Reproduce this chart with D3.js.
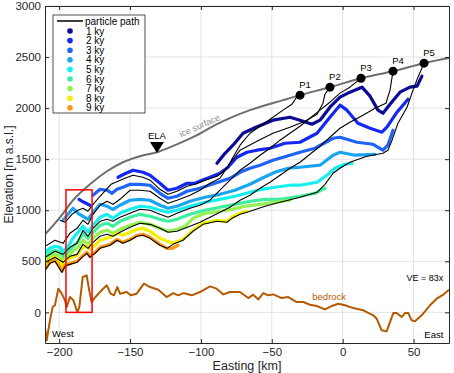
<!DOCTYPE html>
<html>
<head>
<meta charset="utf-8">
<script src="https://cdn.jsdelivr.net/npm/d3@7"></script>
<style>
  body { margin: 0; background: #fff; }
  text { font-family: "Liberation Sans", Arial, sans-serif; }
</style>
</head>
<body>
<div id="wide"></div>
<script>
// ---- data (easting km, elevation m a.s.l.) ----
const iceSurface = [[-210,764],[-199.4,931],[-190.2,1098],[-178.3,1254],[-166.3,1382],[-155,1470],[-143,1529],[-131,1568],[-118.3,1637],[-104.2,1725],[-90.1,1833],[-65.4,1980],[-42.1,2078],[-30.1,2127],[-9,2205],[12.9,2293],[35.5,2362],[57.4,2440],[75,2490]];

const bedrock = [[-210,-144],[-208.8,-274],[-206.5,-78],[-204.6,52],[-203,69],[-200.6,232],[-198.2,183],[-195.9,118],[-194.7,52],[-192.4,150],[-190,118],[-187.2,3],[-185.8,52],[-183.4,346],[-180.6,363],[-178.8,216],[-177.1,101],[-175.4,134],[-171.2,199],[-166.5,265],[-163.7,183],[-161.3,167],[-159,248],[-157.1,183],[-152.4,199],[-149.5,167],[-145.3,183],[-140.2,281],[-135.9,248],[-130.1,222],[-124.2,150],[-119.5,189],[-116,167],[-112.4,189],[-106.5,167],[-100.7,199],[-93.6,255],[-88.9,232],[-84.2,176],[-79.5,199],[-72.4,199],[-66.6,140],[-63.1,173],[-59.5,127],[-56,189],[-52.5,167],[-49,176],[-43,140],[-38.4,150],[-32.4,101],[-27.8,101],[-23.1,75],[-18.3,62],[-12.5,29],[-7.8,62],[-3.1,85],[1.6,69],[7.5,42],[14.5,20],[21.6,-29],[24,-62],[27.5,-176],[31,-186],[35.7,-7],[38.1,-7],[41.6,-46],[44,-7],[46.3,-7],[48.7,-78],[51,-88],[55.7,-29],[61.6,69],[66.3,134],[71,173],[75,222]];

const ages = ["1 ky","2 ky","3 ky","4 ky","5 ky","6 ky","7 ky","8 ky","9 ky"];
const ageColors = ["#0b0b96","#1428f0","#1e64f5","#19a5f0","#14f0f0","#3cf0a0","#96f050","#f0f000","#ff9614"];

// isochrones, one list of segments per age
const iso1 = [[[-88.7,1460],[-83.0,1558],[-77.4,1637],[-70.3,1754],[-61.2,1813],[-49.2,1882],[-37.2,1911],[-30.1,1882],[-21.7,1842],[-16.0,1882],[-9.0,2009],[-1.9,2107],[5.1,2156],[13.6,2205],[19.3,2117],[24.9,1980],[28.4,1950],[33.4,2038],[40.4,2156],[47.5,2205],[52.4,2215],[55.9,2313]]];
const iso2 = [[[-186.0,1107],[-182.5,1078],[-178.3,1049]],
  [[-158.5,1323],[-152.9,1362],[-147.9,1392],[-140.9,1372],[-135.9,1343],[-128.9,1264],[-123.2,1196],[-116.9,1215],[-109.8,1264],[-104.2,1264],[-99.3,1294],[-93.6,1323],[-86.6,1362],[-80.9,1421],[-74.6,1519],[-67.5,1568],[-60.5,1588],[-51.3,1607],[-40.7,1656],[-30.1,1666],[-18.1,1754],[-9.0,1911],[-1.9,2029],[3.0,1980],[10.8,1852],[19.3,1803],[27.7,1764],[31.2,1813],[38.3,1960],[46.1,2087]]];
const iso3 = [[[-176.1,1147],[-171.2,1205],[-166.3,1196],[-162.7,1166],[-159.2,1205],[-155.0,1225],[-150.0,1254],[-143.0,1254],[-135.9,1245],[-128.9,1166],[-123.2,1117],[-116.9,1137],[-109.8,1186],[-100.7,1215],[-90.1,1264],[-79.5,1313],[-72.4,1372],[-65.4,1411],[-58.3,1441],[-49.2,1490],[-37.2,1539],[-30.1,1568],[-19.5,1607],[-6.8,1705],[-1.9,1715],[10.1,1666],[21.4,1646],[28.4,1588],[31.9,1637],[35.5,1784]]];
const iso4 = [[[-197.3,902],[-193.8,960],[-190.2,1019],[-186.7,970],[-183.2,941],[-179.7,911],[-176.1,980],[-171.2,1058],[-166.3,1039],[-162.0,1009],[-157.1,1049],[-150.0,1098],[-143.0,1107],[-135.9,1098],[-128.9,1049],[-123.2,1019],[-116.9,1039],[-107.7,1088],[-97.1,1127],[-86.6,1156],[-76.0,1196],[-65.4,1254],[-56.9,1313],[-47.8,1372],[-38.6,1411],[-30.1,1421],[-16.0,1441],[-6.8,1539],[-1.9,1568],[8.7,1539],[22.8,1548]]];
const iso5 = [[[-210,588],[-206.5,627],[-202.9,647],[-199.4,637],[-197.3,598],[-193.8,647],[-190.2,725],[-186.7,784],[-183.2,843],[-179.7,784],[-176.1,853],[-171.2,931],[-166.3,960],[-162.0,921],[-157.1,970],[-150.0,1009],[-143.0,1039],[-135.9,1029],[-128.9,1000],[-123.2,980],[-116.9,1000],[-107.7,1039],[-97.1,1078],[-86.6,1107],[-76.0,1137],[-65.4,1176],[-56.9,1205],[-47.8,1225],[-37.2,1245],[-30.1,1245],[-18.1,1274],[-11.1,1343],[-5.4,1411],[1.6,1450],[6.6,1460]]];
const iso6 = [[[-210,549],[-206.5,588],[-202.9,608],[-199.4,588],[-197.3,539],[-193.8,588],[-190.2,647],[-186.7,696],[-183.2,774],[-179.7,725],[-176.1,784],[-171.2,853],[-166.3,872],[-162.0,843],[-157.1,892],[-150.0,931],[-143.0,960],[-135.9,941],[-128.9,911],[-123.2,892],[-116.9,911],[-107.7,960],[-97.1,1000],[-86.6,1029],[-76.0,1058],[-65.4,1088],[-54.8,1107],[-44.2,1107],[-30.1,1137],[-19.5,1166],[-12.5,1215]]];
const iso7 = [[[-210,510],[-206.5,549],[-202.9,568],[-199.4,549],[-197.3,500],[-193.8,549],[-190.2,598],[-186.7,637],[-183.2,706],[-179.7,666],[-176.1,725],[-171.2,784],[-166.3,804],[-162.0,774],[-157.1,813],[-150.0,853],[-143.0,882],[-135.9,862],[-128.9,823],[-123.2,794],[-116.9,813],[-111.2,843],[-105.6,921],[-97.1,970],[-86.6,990],[-78.1,1009],[-68.9,1039],[-58.3,1058],[-47.8,1078],[-37.2,1098]]];
const iso8 = [[[-210,470],[-206.5,519],[-202.9,539],[-200.1,510],[-198.0,451],[-195.9,510],[-192.4,529],[-187.4,559],[-183.9,627],[-180.4,657],[-178.3,617],[-174.7,657],[-171.2,706],[-164.1,735],[-159.2,774],[-155.0,755],[-150.0,784],[-145.1,813],[-140.9,823],[-135.9,794],[-128.9,725],[-123.9,696],[-119.7,676],[-112.7,715],[-105.6,804],[-98.5,872],[-88.7,902],[-81.6,892],[-78.1,931],[-72.4,970],[-67.5,990]]];
const iso9 = [[[-210,421],[-206.5,490],[-202.9,510],[-200.1,461],[-198.0,402],[-195.9,461],[-192.4,480],[-187.4,500],[-183.9,549],[-180.4,588],[-178.3,549],[-174.7,588],[-171.2,637],[-164.1,666],[-159.2,715],[-155.0,686],[-150.0,715],[-145.1,755],[-140.9,764],[-135.9,735],[-128.9,666],[-123.9,627],[-120.4,627],[-116.2,657]]];
const isochrones = [iso1, iso2, iso3, iso4, iso5, iso6, iso7, iso8, iso9];

// particle paths from P1..P5 (start at the surface, run west)
const path1 = [[-31.5,2127],[-35.8,2038],[-42.1,1980],[-49.2,1911],[-56.2,1842],[-65.4,1754],[-72.4,1637],[-77.4,1519],[-81.6,1411],[-88.7,1333],[-97.1,1294],[-104.2,1254],[-109.8,1235],[-116.9,1186],[-123.2,1156],[-128.9,1205],[-135.9,1294],[-140.9,1323],[-147.9,1343],[-153.6,1313],[-158.5,1284],[-163.4,1254],[-171.2,1137],[-176.1,1058],[-179.7,990],[-183.2,1019],[-186.7,1000],[-191.0,960],[-195.9,882],[-199.4,902]];
const path2 = [[-9.0,2205],[-12.5,2136],[-13.9,2048],[-18.1,1940],[-26.6,1872],[-37.2,1813],[-49.2,1754],[-60.5,1676],[-72.4,1588],[-79.5,1460],[-86.6,1313],[-93.6,1264],[-100.7,1196],[-107.7,1147],[-116.9,1098],[-123.2,1068],[-128.9,1117],[-135.9,1186],[-143.0,1196],[-150.0,1196],[-157.1,1107],[-162.0,1058],[-166.3,1088],[-171.2,1049],[-176.1,960],[-179.7,862],[-183.2,902],[-187.4,823],[-192.4,774],[-197.3,676],[-202.9,706],[-210,647]];
const path3 = [[12.9,2293],[5.1,2205],[-1.9,2147],[-9.0,2058],[-16.0,1980],[-23.1,1901],[-30.1,1823],[-37.2,1754],[-44.2,1686],[-51.3,1607],[-58.3,1539],[-65.4,1460],[-72.4,1392],[-79.5,1294],[-86.6,1196],[-93.6,1098],[-100.7,1049],[-107.7,1019],[-116.9,970],[-123.2,931],[-128.9,960],[-135.9,1000],[-143.0,1009],[-150.0,970],[-157.1,931],[-162.0,892],[-166.3,911],[-171.2,892],[-176.1,823],[-179.7,745],[-183.2,804],[-187.4,676],[-192.4,637],[-197.3,568],[-202.9,598],[-210,539]];
const path4 = [[35.5,2362],[33.4,2176],[30.5,2048],[22.8,1999],[14.3,1931],[5.1,1862],[-1.9,1803],[-9.0,1715],[-16.0,1627],[-23.1,1548],[-30.1,1470],[-37.2,1411],[-44.2,1343],[-51.3,1274],[-58.3,1215],[-65.4,1147],[-72.4,1098],[-79.5,1029],[-86.6,980],[-93.6,931],[-100.7,882],[-107.7,843],[-116.9,794],[-123.2,784],[-128.9,823],[-135.9,862],[-143.0,872],[-150.0,833],[-157.1,784],[-162.0,745],[-166.3,764],[-171.2,745],[-176.1,686],[-179.7,627],[-183.2,666],[-187.4,568],[-192.4,549],[-197.3,490],[-202.9,539],[-210,490]];
const path5 = [[57.4,2440],[53.1,2303],[49.6,2176],[45.4,2009],[39.0,1852],[34.8,1686],[31.9,1588],[28.4,1558],[17.1,1529],[5.1,1470],[-1.9,1411],[-6.8,1362],[-12.5,1254],[-18.1,1176],[-30.1,1127],[-44.2,1078],[-54.8,1039],[-67.5,980],[-72.4,960],[-78.1,921],[-81.6,882],[-88.7,892],[-98.5,862],[-105.6,794],[-112.7,706],[-119.7,666],[-123.9,627],[-128.9,657],[-135.9,725],[-140.9,755],[-145.1,745],[-150.0,706],[-155.0,676],[-159.2,706],[-164.1,657],[-171.2,627],[-174.7,578],[-178.3,539],[-180.4,578],[-183.9,539],[-187.4,490],[-192.4,470],[-195.9,451],[-198.0,392],[-200.8,451],[-202.9,500],[-206.5,480],[-210,412]];
const particlePaths = [path1, path2, path3, path4, path5];

const startNames = ["P1","P2","P3","P4","P5"];
const startPoints = [[-30.1,2127],[-9,2205],[12.9,2293],[35.5,2362],[57.4,2440]];
const ela = [-131, 1560];

const xTicks = [-200,-150,-100,-50,0,50];
const yTicks = [0,500,1000,1500,2000,2500,3000];
const redBox = [[-195.2,0],[-176.8,1200]];

// ---- layout ----
const W = 454, H = 373;
const margin = {top: 6, right: 5, bottom: 30, left: 45};

const svg = d3.select("#wide")
    .append("svg")
    .attr("width", W)
    .attr("height", H);

const x = d3.scaleLinear().domain([-210, 75]).range([margin.left, W - margin.right]);
const y = d3.scaleLinear().domain([-300, 3000]).range([H - margin.bottom, margin.top]);

svg.append("defs").append("clipPath").attr("id", "plotclip")
    .append("rect")
    .attr("x", x.range()[0]).attr("y", y.range()[1])
    .attr("width", x.range()[1] - x.range()[0])
    .attr("height", y.range()[0] - y.range()[1]);

// grid
const grid = svg.append("g").attr("class", "grid");
grid.selectAll(".gx").data(xTicks).enter().append("line")
    .attr("x1", d => x(d)).attr("x2", d => x(d))
    .attr("y1", y.range()[0]).attr("y2", y.range()[1])
    .attr("stroke", "#e3e3e3").attr("stroke-width", 1);
grid.selectAll(".gy").data(yTicks).enter().append("line")
    .attr("x1", x.range()[0]).attr("x2", x.range()[1])
    .attr("y1", d => y(d)).attr("y2", d => y(d))
    .attr("stroke", "#e3e3e3").attr("stroke-width", 1);

const line = d3.line().x(d => x(d[0])).y(d => y(d[1]));
const smooth = d3.line().x(d => x(d[0])).y(d => y(d[1])).curve(d3.curveMonotoneX);
const plot = svg.append("g").attr("clip-path", "url(#plotclip)");

// ice surface
plot.append("path")
    .attr("d", smooth(iceSurface))
    .attr("fill", "none").attr("stroke", "#6e6e6e").attr("stroke-width", 2);

// bedrock
plot.append("path")
    .attr("d", line(bedrock))
    .attr("fill", "none").attr("stroke", "#b45a00").attr("stroke-width", 2)
    .attr("stroke-linejoin", "round");

// isochrones (thick coloured)
isochrones.forEach((segs, i) => {
    plot.append("g").selectAll("path")
        .data(segs).enter().append("path")
        .attr("d", d => line(d))
        .attr("fill", "none")
        .attr("stroke", ageColors[i])
        .attr("stroke-width", 3.2)
        .attr("stroke-linejoin", "round")
        .attr("stroke-linecap", "round");
});

// particle paths (thin black)
plot.append("g").selectAll("path")
    .data(particlePaths).enter().append("path")
    .attr("d", d => line(d))
    .attr("fill", "none")
    .attr("stroke", "#000")
    .attr("stroke-width", 1.1)
    .attr("stroke-linejoin", "round");

// red box
plot.append("rect")
    .attr("x", x(redBox[0][0])).attr("y", y(redBox[1][1]))
    .attr("width", x(redBox[1][0]) - x(redBox[0][0]))
    .attr("height", y(redBox[0][1]) - y(redBox[1][1]))
    .attr("fill", "none").attr("stroke", "#f00").attr("stroke-width", 1.5);

// start points
svg.append("g").selectAll("circle")
    .data(startPoints).enter().append("circle")
    .attr("cx", d => x(d[0])).attr("cy", d => y(d[1]))
    .attr("r", 4.5).attr("fill", "#000");
svg.append("g").selectAll("text")
    .data(startPoints).enter().append("text")
    .attr("x", d => x(d[0]) + 5).attr("y", d => y(d[1]) - 7)
    .attr("text-anchor", "middle")
    .attr("font-size", 9.5)
    .text((d, i) => startNames[i]);

// ELA marker
const ex = x(ela[0]), ey = y(ela[1]);
svg.append("path")
    .attr("d", `M${ex - 7},${ey - 11}L${ex + 7},${ey - 11}L${ex},${ey}Z`)
    .attr("fill", "#000");
svg.append("text")
    .attr("x", ex).attr("y", ey - 14)
    .attr("text-anchor", "middle").attr("font-size", 9.5)
    .text("ELA");

// ice surface label
svg.append("text")
    .attr("transform", `translate(${x(-100)},${y(1800)}) rotate(-24)`)
    .attr("text-anchor", "middle").attr("font-size", 9)
    .attr("fill", "#8c8c8c")
    .text("ice surface");

svg.append("text")
    .attr("x", x(-9.5)).attr("y", y(120))
    .attr("text-anchor", "middle").attr("font-size", 9.5)
    .attr("fill", "#b45a00")
    .text("bedrock");

svg.append("text")
    .attr("x", x(-205)).attr("y", y(-245))
    .attr("font-size", 9.5).text("West");
svg.append("text")
    .attr("x", x(71)).attr("y", y(-250))
    .attr("text-anchor", "end").attr("font-size", 9.5).text("East");
svg.append("text")
    .attr("x", x(71)).attr("y", y(305))
    .attr("text-anchor", "end").attr("font-size", 9).text("VE = 83x");

// axes box + ticks
const axes = svg.append("g");
axes.append("g")
    .attr("transform", `translate(0,${y.range()[0]})`)
    .call(d3.axisBottom(x).tickValues(xTicks).tickFormat(d3.format("d"))
        .tickSizeInner(-4).tickSizeOuter(0).tickPadding(5));
axes.append("g")
    .attr("transform", `translate(0,${y.range()[1]})`)
    .call(d3.axisTop(x).tickValues(xTicks).tickSizeInner(-4).tickSizeOuter(0).tickFormat(""));
axes.append("g")
    .attr("transform", `translate(${x.range()[0]},0)`)
    .call(d3.axisLeft(y).tickValues(yTicks).tickFormat(d3.format("d"))
        .tickSizeInner(-4).tickSizeOuter(0).tickPadding(4));
axes.append("g")
    .attr("transform", `translate(${x.range()[1]},0)`)
    .call(d3.axisRight(y).tickValues(yTicks).tickSizeInner(-4).tickSizeOuter(0).tickFormat(""));
axes.selectAll(".domain").attr("stroke", "#262626");
axes.selectAll(".tick line").attr("stroke", "#262626");
axes.selectAll(".tick text")
    .attr("font-family", "'Liberation Sans', Arial, sans-serif")
    .attr("font-size", 11.5).attr("fill", "#262626");

svg.append("text")
    .attr("x", (x.range()[0] + x.range()[1]) / 2).attr("y", 370)
    .attr("text-anchor", "middle").attr("font-size", 12.5).attr("fill", "#262626")
    .text("Easting [km]");
svg.append("text")
    .attr("transform", `translate(12.5,${(y.range()[0] + y.range()[1]) / 2}) rotate(-90)`)
    .attr("text-anchor", "middle").attr("font-size", 12).attr("fill", "#262626")
    .text("Elevation [m a.s.l.]");

// legend
const lg = svg.append("g").attr("transform", "translate(53,15)");
lg.append("rect")
    .attr("width", 92).attr("height", 98)
    .attr("fill", "#fff").attr("stroke", "#262626").attr("stroke-width", 0.8);
lg.append("line")
    .attr("x1", 4).attr("x2", 30).attr("y1", 6).attr("y2", 6)
    .attr("stroke", "#000").attr("stroke-width", 1.5);
lg.append("text").attr("x", 32).attr("y", 9.5).attr("font-size", 10)
    .text("particle path");
const items = lg.selectAll(".item").data(ages).enter().append("g")
    .attr("transform", (d, i) => `translate(0,${16 + i * 9.6})`);
items.append("circle").attr("cx", 17).attr("cy", 0).attr("r", 2.8)
    .attr("fill", (d, i) => ageColors[i]);
items.append("text").attr("x", 33).attr("y", 3.5).attr("font-size", 10)
    .text(d => d);
</script>
</body>
</html>
